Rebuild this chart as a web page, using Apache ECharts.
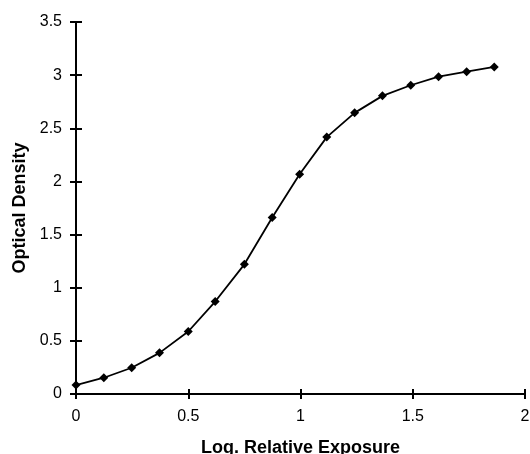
<!DOCTYPE html>
<html>
<head>
<meta charset="utf-8">
<script src="https://cdn.jsdelivr.net/npm/echarts@6/dist/echarts.min.js"></script>
<style>
  html, body { margin: 0; padding: 0; background: #fff; }
  #chart { width: 530px; height: 454px; }
</style>
</head>
<body>
<div id="chart"></div>
<script>
// Characteristic curve: optical density vs. log relative exposure
const logExposure = [0, 0.124, 0.248, 0.372, 0.5, 0.62, 0.75, 0.874, 0.996, 1.117, 1.241, 1.365, 1.491, 1.615, 1.74, 1.863];
const opticalDensity = [0.084, 0.153, 0.247, 0.387, 0.588, 0.87, 1.22, 1.66, 2.067, 2.417, 2.645, 2.805, 2.905, 2.986, 3.033, 3.077];

const xTitle = 'Log. Relative Exposure';
const yTitle = 'Optical Density';

const fontFamily = '"Liberation Sans", Arial, sans-serif';
const ink = '#000';

const points = logExposure.map((x, i) => [x, opticalDensity[i]]);

const baseX = {
  type: 'value', min: 0, max: 2, interval: 0.5,
  splitLine: { show: false },
  axisLine: { show: true, onZero: false, lineStyle: { color: ink, width: 2 } }
};
const baseY = {
  type: 'value', min: 0, max: 3.5, interval: 0.5,
  splitLine: { show: false },
  axisLine: { show: true, onZero: false, lineStyle: { color: ink, width: 2 } }
};

const chart = echarts.init(document.getElementById('chart'), null, { renderer: 'canvas' });
chart.setOption({
  animation: false,
  backgroundColor: '#fff',
  grid: { left: 76, right: 5, top: 22, bottom: 60, containLabel: false, outerBoundsMode: 'none' },
  xAxis: [
    Object.assign({}, baseX, {
      name: xTitle, nameLocation: 'middle', nameGap: 45,
      nameTextStyle: { fontFamily, fontSize: 18, fontWeight: 'bold', color: ink },
      axisTick: { show: true, length: 5, lineStyle: { color: ink, width: 2 } },
      axisLabel: { fontFamily, fontSize: 16, color: ink, margin: 15,
        formatter: v => String(v) }
    }),
    Object.assign({}, baseX, {
      position: 'bottom', gridIndex: 0,
      axisTick: { show: true, inside: true, length: 5, lineStyle: { color: ink, width: 2 } },
      axisLabel: { show: false }
    })
  ],
  yAxis: [
    Object.assign({}, baseY, {
      name: yTitle, nameLocation: 'middle', nameGap: 47, nameRotate: 90,
      nameTextStyle: { fontFamily, fontSize: 18, fontWeight: 'bold', color: ink },
      axisTick: { show: true, length: 6, lineStyle: { color: ink, width: 2 } },
      axisLabel: { fontFamily, fontSize: 16, color: ink, margin: 14,
        formatter: v => String(v) }
    }),
    Object.assign({}, baseY, {
      position: 'left', gridIndex: 0,
      axisTick: { show: true, inside: true, length: 6, lineStyle: { color: ink, width: 2 } },
      axisLabel: { show: false }
    })
  ],
  series: [{
    type: 'line',
    data: points,
    xAxisIndex: 0, yAxisIndex: 0,
    symbol: 'diamond',
    symbolSize: 9,
    showAllSymbol: true,
    lineStyle: { color: ink, width: 1.8 },
    itemStyle: { color: ink },
    z: 3
  }]
});
</script>
</body>
</html>
